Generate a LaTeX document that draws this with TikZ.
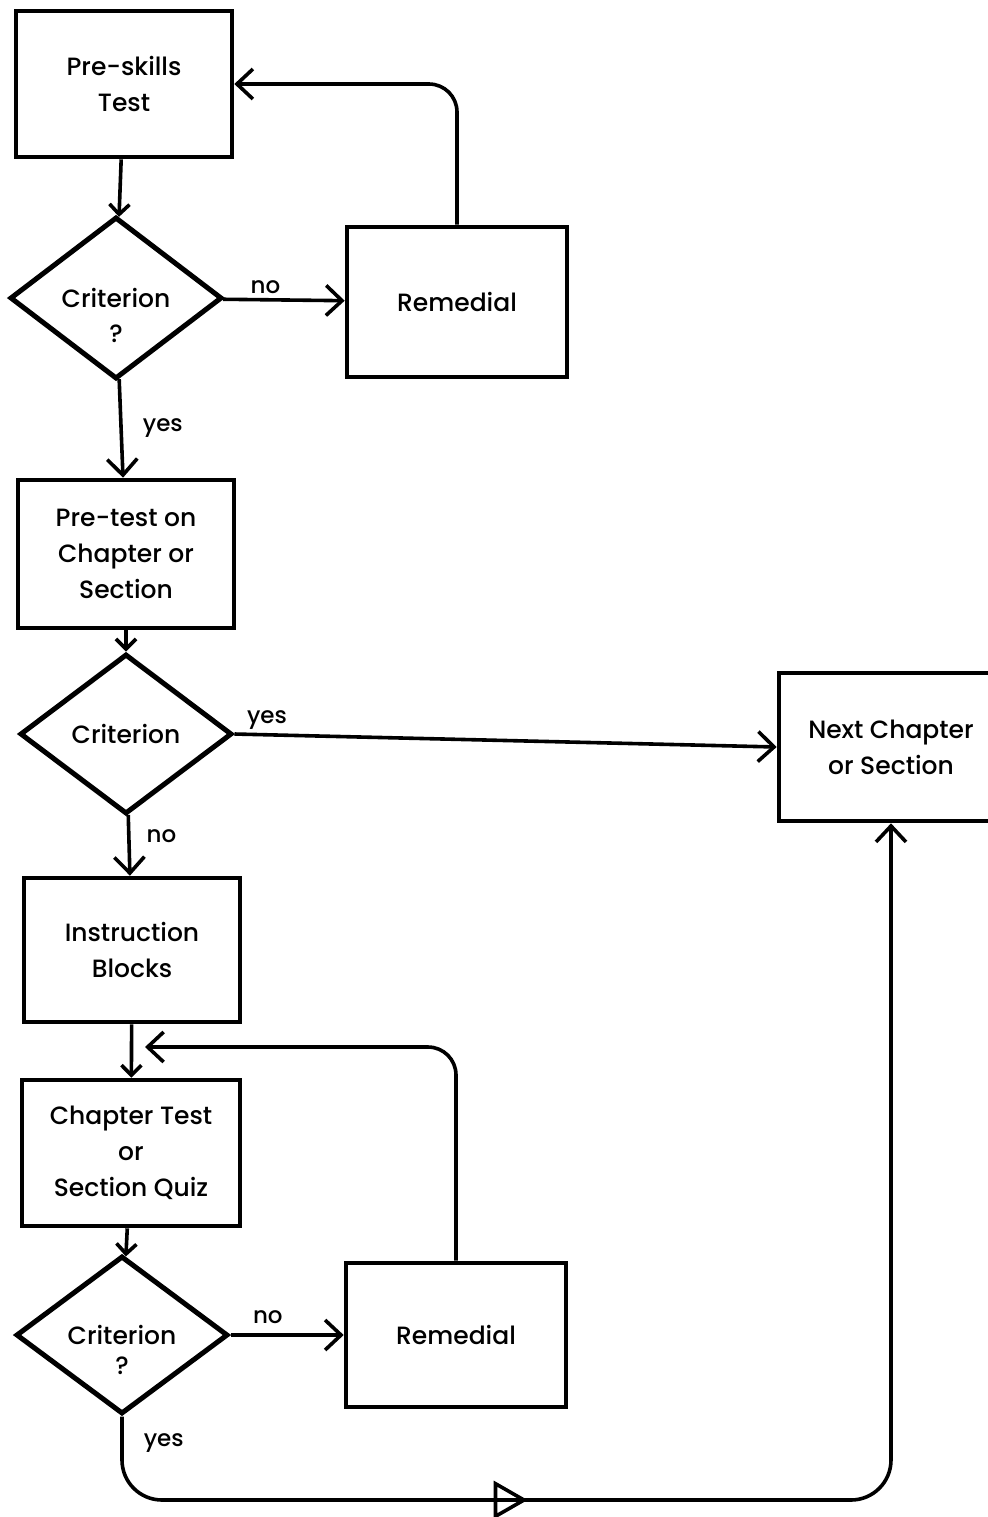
\documentclass[tikz,border=0pt]{standalone}
\usepackage{fontspec}
\setmainfont{Poppins}[UprightFont=* Medium]
\usetikzlibrary{shapes.geometric}
\usetikzlibrary{decorations.markings}
\usetikzlibrary{arrows.meta}

\begin{document}
\begin{tikzpicture}[x=0.5pt,y=-0.5pt,
	box/.style={draw, line width=2.3pt, minimum width=108pt, minimum height=73pt,
		align=center, font=\fontsize{12.5}{18}\selectfont},
	crit/.style={draw, diamond, line width=2.5pt, minimum width=106pt, minimum height=81pt,
		inner sep=0pt, align=center, font=\fontsize{12.5}{16}\selectfont},
	qmark/.style={font=\fontsize{12.5}{16}\selectfont, inner sep=0pt},
	flow/.style={line width=1.8pt, -{Straight Barb[length=8pt,width=15pt,line width=1.8pt]}},
	short/.style={line width=1.8pt, -{Straight Barb[length=5pt,width=10pt,line width=1.8pt]}},
	lbl/.style={font=\fontsize{11.5}{13}\selectfont, inner sep=2pt}]
	\useasboundingbox (0,0) rectangle (987,1517);
	
	% left column
	\node[box] (pre) at (124,84) {Pre-skills\\Test};
	\node[crit] (crit1) at (116,298) {Criterion};
	\node[qmark] (q1) at (116,334) {?};
	\node[box, minimum width=110pt, minimum height=75pt] (rem1) at (457,302) {Remedial};
	\node[box, minimum height=74pt] (pretest) at (126,554) {Pre-test on\\Chapter or\\Section};
	\node[crit, minimum height=80pt] (crit2) at (126,734) {Criterion};
	\node[box, minimum width=112pt, minimum height=74pt] (next) at (891,747) {Next Chapter\\or Section};
	\node[box, minimum height=72pt] (instr) at (132,950) {Instruction\\Blocks};
	\node[box, minimum width=109pt] (chtest) at (131,1153) {Chapter Test\\or\\Section Quiz};
	\node[crit, minimum height=79pt] (crit3) at (122,1335) {Criterion};
	\node[qmark] (q3) at (122,1366) {?};
	\node[box, minimum width=110pt, minimum height=72pt] (rem2) at (456,1335) {Remedial};
	\coordinate (back) at (145,1047);
	\coordinate (low) at (891,1500);
	
	% connectors
	\draw[short] (pre) -- (crit1);
	\draw[flow] (crit1) -- node[lbl, above, pos=0.35] {no} (rem1);
	\draw[flow, rounded corners=14pt] (rem1.north) |- (pre.east);
	\draw[flow] (crit1) -- node[lbl, right=8pt, pos=0.5] {yes} (pretest);
	\draw[short] (pretest) -- (crit2);
	\draw[flow] (crit2.east) -- node[lbl, above, pos=0.06] {yes} (next.west);
	\draw[flow] (crit2) -- node[lbl, right=6pt, pos=0.35] {no} (instr);
	\draw[short] (instr) -- (chtest);
	\draw[flow, rounded corners=14pt] (rem2.north) |- (back);
	\draw[short] (chtest) -- (crit3);
	\draw[flow] (crit3) -- node[lbl, above=3pt, pos=0.33] {no} (rem2);
	\draw[flow, rounded corners=20pt,
	postaction={decorate},
	decoration={markings, mark=at position 236pt with {\arrow{Triangle[open,length=17pt,width=19pt,line width=1.8pt]}}}
	] (crit3.south) |- node[lbl, right=8pt, pos=0.16] {yes} (low) -- (next.south);
	
\end{tikzpicture}
\end{document}
